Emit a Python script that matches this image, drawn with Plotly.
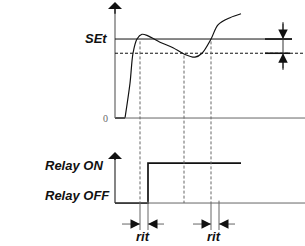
import plotly.graph_objects as go

# ---- data (time in arbitrary units, temperature in % of SEt) ----
time_pts = [10, 15, 18, 22, 27, 33, 45, 58, 69, 80, 87, 96, 103, 115, 126]
temp_pts = [0, 44, 82, 100, 106, 104, 96, 89, 81, 77, 82, 100, 118, 127, 132]
SET_VALUE = 100
SET_LOW = 82           # SEt minus differential
relay_time = [0, 33, 33, 126]
relay_state = [0, 0, 1, 1]
guide_times = [25, 69, 96]          # instants where temperature crosses thresholds
guide_levels = [100, 82, 100]
rit_pairs = [(25, 33), (96, 104)]   # delay intervals
T_END = 190

# ---- layout helpers ----
RELAY_BASE = -107.6
RELAY_SPAN = 50.6
def relay_y(s):
    return RELAY_BASE + s * RELAY_SPAN

BLACK = "#111111"
GRAY = "#666666"
DGRAY = "#333333"

fig = go.Figure()

# temperature curve
fig.add_trace(go.Scatter(x=[0, time_pts[0]], y=[0, 0], mode="lines",
                         line=dict(color=BLACK, width=1.6), hoverinfo="skip"))
fig.add_trace(go.Scatter(x=time_pts, y=temp_pts, mode="lines",
                         line=dict(color=BLACK, width=1.2, shape="spline", smoothing=0.9),
                         hoverinfo="skip"))
# relay
fig.add_trace(go.Scatter(x=relay_time, y=[relay_y(s) for s in relay_state], mode="lines",
                         line=dict(color=BLACK, width=1.7), hoverinfo="skip"))

shapes = []
# axes
shapes.append(dict(type="line", x0=0, x1=T_END, y0=0, y1=0, line=dict(color=GRAY, width=1)))
shapes.append(dict(type="line", x0=0, x1=0, y0=0, y1=140, line=dict(color=GRAY, width=1.2)))
shapes.append(dict(type="line", x0=0, x1=T_END, y0=relay_y(0), y1=relay_y(0), line=dict(color=GRAY, width=1)))
shapes.append(dict(type="line", x0=0, x1=0, y0=relay_y(0), y1=-50, line=dict(color=DGRAY, width=1.2)))
# SEt and SEt-diff lines
shapes.append(dict(type="line", x0=0, x1=177, y0=SET_VALUE, y1=SET_VALUE, line=dict(color=BLACK, width=1)))
shapes.append(dict(type="line", x0=0, x1=T_END, y0=SET_LOW, y1=SET_LOW, line=dict(color=BLACK, width=1, dash="3px,2px")))
shapes.append(dict(type="line", x0=150, x1=177, y0=SET_VALUE, y1=SET_VALUE, line=dict(color=BLACK, width=1.6)))
shapes.append(dict(type="line", x0=150, x1=175, y0=SET_LOW, y1=SET_LOW, line=dict(color=BLACK, width=1.6)))
shapes.append(dict(type="line", x0=168, x1=168, y0=60.8, y1=121.5, line=dict(color=DGRAY, width=1)))
# dashed guides
for t, lv in zip(guide_times, guide_levels):
    shapes.append(dict(type="line", x0=t, x1=t, y0=lv - 3, y1=relay_y(0),
                       line=dict(color=GRAY, width=1, dash="3px,2px")))
# rit ticks and arrow shafts
for a, b in rit_pairs:
    shapes.append(dict(type="line", x0=a, x1=a, y0=relay_y(0), y1=-141.8, line=dict(color=GRAY, width=1)))
    shapes.append(dict(type="line", x0=b, x1=b, y0=relay_y(0) + 3, y1=-141.8, line=dict(color=GRAY, width=1)))
    shapes.append(dict(type="line", x0=a - 18, x1=a, y0=-134.2, y1=-134.2, line=dict(color=GRAY, width=1)))
    shapes.append(dict(type="line", x0=b, x1=b + 16, y0=-134.2, y1=-134.2, line=dict(color=GRAY, width=1)))

annotations = []
def arrow(x, y, ax, ay, color=BLACK, head=2, size=1.6, width=1):
    annotations.append(dict(x=x, y=y, ax=ax, ay=ay, xref="x", yref="y", axref="x", ayref="y",
                            showarrow=True, arrowhead=head, arrowsize=size, arrowwidth=width,
                            arrowcolor=color, text=""))
# y-axis arrow heads
arrow(0, 146.8, 0, 130, BLACK, head=1, size=1.8, width=1.3)
arrow(0, -43.0, 0, -55, BLACK, head=1, size=1.8, width=1.3)
# rit arrow heads
for a, b in rit_pairs:
    arrow(a, -134.2, a - 9, -134.2, BLACK, head=2, size=1.9)
    arrow(b, -134.2, b + 9, -134.2, BLACK, head=2, size=1.9)
    annotations.append(dict(x=(a + b) / 2 - 1, y=-162.0, xref="x", yref="y", text="<b><i>rit</i></b>",
                            showarrow=False, yanchor="bottom",
                            font=dict(family="Liberation Sans", size=13, color=BLACK)))
# differential arrows
arrow(168, SET_VALUE, 168, 121.5, BLACK, head=2, size=1.9)
arrow(168, SET_LOW, 168, 60.8, BLACK, head=2, size=1.9)

def label(x, y, text, xanchor="right", size=13, family="Liberation Sans", color=BLACK):
    annotations.append(dict(x=x, y=y, xref="x", yref="y", text=text, showarrow=False,
                            xanchor=xanchor, yanchor="middle",
                            font=dict(family=family, size=size, color=color)))
label(-6, 101, "<b><i>SEt</i></b>")
label(-5, 0, "0", size=10, family="Liberation Serif", color=GRAY)
label(-10, -59.5, "<b><i>Relay ON</i></b>")
label(-3, -98.7, "<b><i>Relay OFF</i></b>")

fig.update_layout(
    width=305, height=246, margin=dict(l=0, r=0, t=0, b=0),
    paper_bgcolor="white", plot_bgcolor="white", showlegend=False,
    xaxis=dict(range=[-115, 190], visible=False, fixedrange=True),
    yaxis=dict(range=[-162.0, 149.4], visible=False, fixedrange=True),
    shapes=shapes, annotations=annotations,
)
fig.write_html("out.html", config={"displayModeBar": False},
               post_script="document.body.style.margin='0px';document.body.style.overflow='hidden';")
